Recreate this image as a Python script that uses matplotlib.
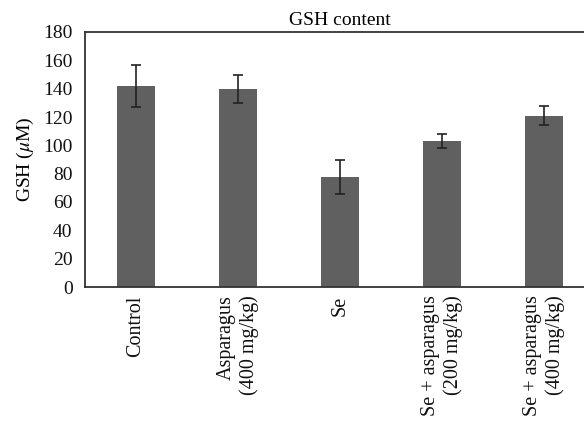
import matplotlib
matplotlib.use("Agg")
import matplotlib.pyplot as plt

categories = ["Control", "Asparagus\n(400 mg/kg)", "Se",
              "Se + asparagus\n(200 mg/kg)", "Se + asparagus\n(400 mg/kg)"]
values = [142, 140, 78, 103, 121]
errors = [15, 10, 12, 5, 6.5]
yticks = [0, 20, 40, 60, 80, 100, 120, 140, 160, 180]

plt.rcParams['font.family'] = ['Liberation Serif', 'DejaVu Serif']
plt.rcParams['mathtext.fontset'] = 'stix'

W, H = 584, 426
fig = plt.figure(figsize=(W/100, H/100), dpi=100)
ax = fig.add_axes([85/W, (H-287)/H, (595-85)/W, 255/H])

x = list(range(len(categories)))
ax.bar(x, values, width=0.37, color='#606060', zorder=2)
ax.errorbar(x, values, yerr=errors, fmt='none', ecolor='#222222',
            elinewidth=1.2, capsize=3.5, capthick=1.2, zorder=3)

ax.set_xlim(-0.5, 4.5)
ax.set_ylim(0, 180)
ax.set_yticks(yticks)
ax.set_xticks(x)
ax.set_xticklabels(categories, rotation=90, ha='center', va='top',
                   multialignment='right', fontsize=14.5)
ax.tick_params(axis='both', length=0, labelsize=14, colors='#111111')
ax.tick_params(axis='x', pad=6, labelsize=14.5)
ax.tick_params(axis='y', pad=9)
for s in ['left', 'top', 'bottom']:
    ax.spines[s].set_color('#333333')
    ax.spines[s].set_linewidth(1.3)
ax.spines['right'].set_visible(False)

ax.set_ylabel("GSH ($\\mu$M)", fontsize=14, labelpad=5)
ax.set_title("GSH content", fontsize=14, pad=5)

fig.savefig("out.png", dpi=100)
